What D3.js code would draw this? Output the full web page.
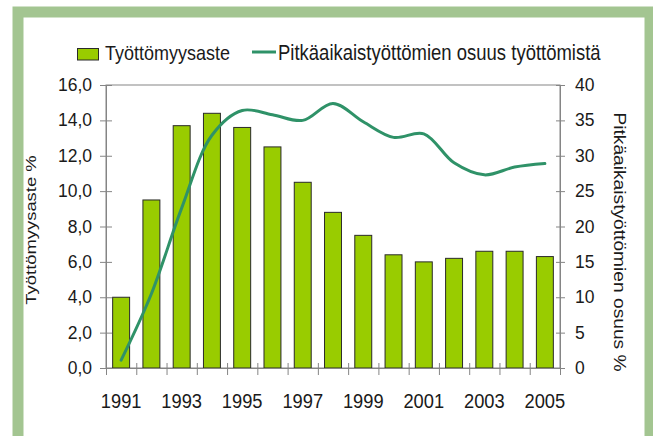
<!DOCTYPE html>
<html><head><meta charset="utf-8">
<script src="https://cdn.jsdelivr.net/npm/d3@7"></script>
<style>
html,body{margin:0;padding:0;background:#fff;}
svg{display:block;font-family:"Liberation Sans",Arial,sans-serif;}
</style></head>
<body>
<svg id="c" width="653" height="436"></svg>
<script>
const years = [1991,1992,1993,1994,1995,1996,1997,1998,1999,2000,2001,2002,2003,2004,2005];
const unemploymentRate = [4.0,9.5,13.7,14.4,13.6,12.5,10.5,8.8,7.5,6.4,6.0,6.2,6.6,6.6,6.3];
const longTermShare = [1.1,10.5,22.6,32.9,36.4,35.8,35.0,37.4,34.8,32.6,33.1,29.0,27.3,28.4,28.9];
const leftTicks = [0,2,4,6,8,10,12,14,16];
const rightTicks = [0,5,10,15,20,25,30,35,40];
const xLabelYears = [1991,1993,1995,1997,1999,2001,2003,2005];
const seriesNames = ["Työttömyysaste","Pitkäaikaistyöttömien osuus työttömistä"];
const axisTitles = ["Työttömyysaste %","Pitkäaikaistyöttömien osuus %"];

const svg = d3.select("#c");
const L=106, R=560, T=85, B=368;
const barColor="#99cc00", lineColor="#2f9268", axisColor="#858585", textColor="#1a1a1a";

// frame
svg.append("rect").attr("x",18).attr("y",12).attr("width",632).attr("height",440)
  .attr("fill","none").attr("stroke","#a3c591").attr("stroke-width",11);

const x = d3.scaleBand().domain(years).range([L,R]).paddingInner(0.44).paddingOuter(0.22);
const xb = d3.scaleLinear().domain([0,years.length]).range([L,R]);
const yL = d3.scaleLinear().domain([0,16]).range([B,T]);
const yR = d3.scaleLinear().domain([0,40]).range([B,T]);

// plot frame
svg.append("rect").attr("x",L).attr("y",T).attr("width",R-L).attr("height",B-T)
  .attr("fill","none").attr("stroke",axisColor).attr("stroke-width",1);

// bars
svg.append("g").selectAll("rect").data(years).join("rect")
  .attr("x",d=>x(d)).attr("width",x.bandwidth())
  .attr("y",(d,i)=>yL(unemploymentRate[i])).attr("height",(d,i)=>B-yL(unemploymentRate[i]))
  .attr("fill",barColor).attr("stroke","#2a2a2a").attr("stroke-width",1);

// left axis
const gl = svg.append("g").attr("transform",`translate(${L},0)`)
  .call(d3.axisLeft(yL).tickValues(leftTicks).tickFormat(d=>d.toFixed(1).replace(".",",")).tickSize(6).tickPadding(8));
gl.select(".domain").attr("stroke",axisColor);
gl.selectAll(".tick line").attr("x1",6).attr("stroke",axisColor);
gl.selectAll(".tick text").attr("font-size",17.5).attr("fill",textColor).attr("font-family","Liberation Sans, Arial");

// right axis
const gr = svg.append("g").attr("transform",`translate(${R},0)`)
  .call(d3.axisRight(yR).tickValues(rightTicks).tickSize(5).tickPadding(10));
gr.select(".domain").attr("stroke",axisColor);
gr.selectAll(".tick line").attr("x1",-4).attr("stroke",axisColor);
gr.selectAll(".tick text").attr("font-size",17.5).attr("fill",textColor).attr("font-family","Liberation Sans, Arial");

// bottom axis: ticks at category boundaries
const gb = svg.append("g").attr("transform",`translate(0,${B})`)
  .call(d3.axisBottom(xb).tickValues(d3.range(0,years.length+1)).tickFormat("").tickSize(7));
gb.select(".domain").attr("stroke",axisColor);
gb.selectAll(".tick line").attr("y1",-5).attr("stroke",axisColor);

// year labels
svg.append("g").selectAll("text").data(xLabelYears).join("text")
  .attr("transform",d=>`translate(${x(d)+x.bandwidth()/2},407.5) scale(1,1.15)`)
  .attr("text-anchor","middle").attr("font-size",18.3).attr("fill",textColor).text(d=>d);

// line
const line = d3.line().x((d,i)=>x(years[i])+x.bandwidth()/2).y(d=>yR(d)).curve(d3.curveCatmullRom.alpha(0.5));
svg.append("path").datum(longTermShare).attr("d",line)
  .attr("fill","none").attr("stroke",lineColor).attr("stroke-width",3).attr("stroke-linecap","round");

// axis titles
svg.append("text").attr("transform","translate(35.5,230) scale(0.8,1) rotate(-90)")
  .attr("text-anchor","middle").attr("font-size",18.4).attr("fill",textColor).text(axisTitles[0]);
svg.append("text").attr("transform","translate(613.5,242) scale(0.84,1) rotate(90)")
  .attr("text-anchor","middle").attr("font-size",19.2).attr("fill",textColor).text(axisTitles[1]);

// legend
svg.append("rect").attr("x",77.5).attr("y",48.5).attr("width",21).attr("height",11.5)
  .attr("fill",barColor).attr("stroke","#2a2a2a").attr("stroke-width",1);
svg.append("text").attr("transform","translate(105,60) scale(1,1.15)")
  .attr("font-size",18).attr("fill",textColor).text(seriesNames[0]);
svg.append("line").attr("x1",252).attr("x2",276).attr("y1",52).attr("y2",52)
  .attr("stroke",lineColor).attr("stroke-width",3);
svg.append("text").attr("transform","translate(278,60) scale(1,1.15)")
  .attr("font-size",18.5).attr("fill",textColor).text(seriesNames[1]);
</script>
</body></html>
